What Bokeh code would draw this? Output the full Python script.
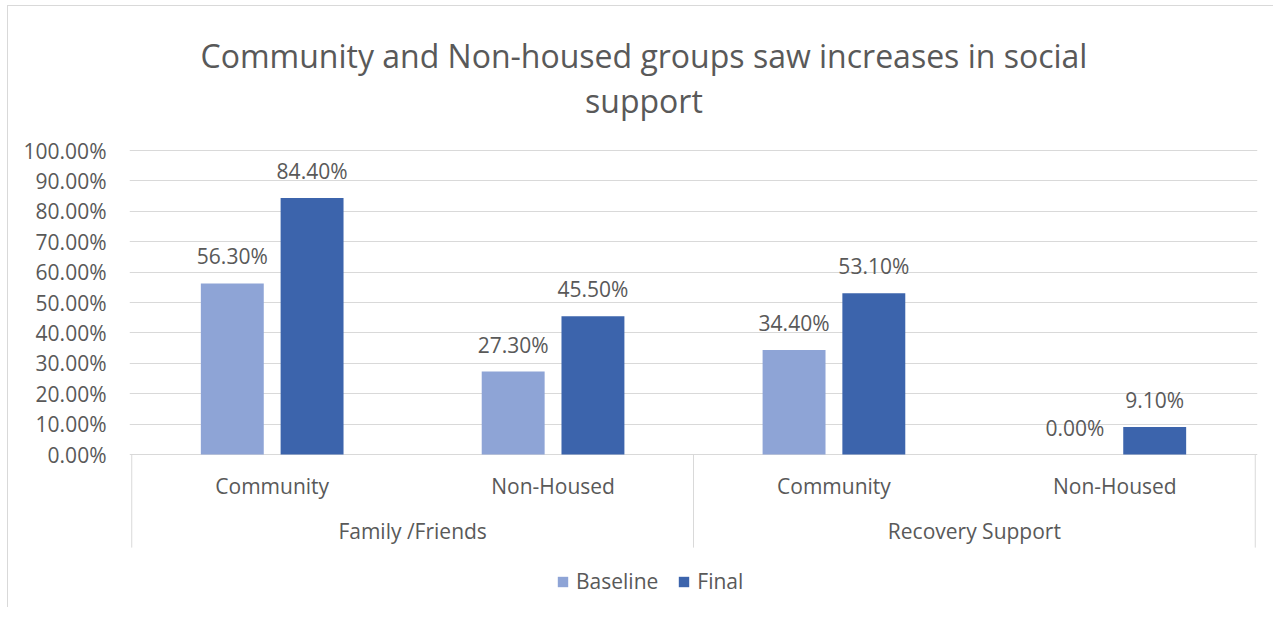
from bokeh.plotting import figure
from bokeh.models import (ColumnDataSource, FactorRange, FixedTicker, PrintfTickFormatter,
                          Legend, LegendItem, Title, Range1d)
from bokeh.transform import dodge
from bokeh.core.properties import value
from bokeh.embed import file_html
from bokeh.resources import INLINE

# ---------------- data ----------------
groups = ["Family /Friends", "Recovery Support"]
subgroups = ["Community", "Non-Housed"]
series = ["Baseline", "Final"]
baseline = [56.3, 27.3, 34.4, 0.0]
final = [84.4, 45.5, 53.1, 9.1]
y_ticks = [0, 10, 20, 30, 40, 50, 60, 70, 80, 90, 100]
title_lines = ["Community and Non-housed groups saw increases in social", "support"]

# ---------------- style ----------------
FONT = "Open Sans"
TXT = "#595959"
GRID = "#D9D9D9"
C_BASE = "#8EA4D6"
C_FINAL = "#3C64AC"
BAR_W = 0.224
DODGE = 0.142
SUB_Y = -10.2
GROUP_Y = -25.3
DIV_Y = -30.6

factors = [(g, s) for g in groups for s in subgroups]
src = ColumnDataSource(dict(
    x=factors,
    baseline=baseline,
    final=final,
    baseline_label=[f"{v:.2f}%" for v in baseline],
    final_label=[f"{v:.2f}%" for v in final],
))

p = figure(
    x_range=FactorRange(*factors, group_padding=0, factor_padding=0, range_padding=0.004),
    y_range=Range1d(-48, 101),
    width=1266, height=602,
    output_backend="svg", toolbar_location=None, x_axis_location=None,
    title=None,
    min_border_left=121, min_border_right=17, min_border_top=141, min_border_bottom=8,
)
p.outline_line_color = None
p.styles = {"border-top": "1px solid #D9D9D9", "border-left": "1px solid #D9D9D9",
            "margin-top": "5px", "margin-left": "7px"}

# two-line title, centred on the whole chart
title = Title(text="\n".join(title_lines), align="left", offset=71, text_align="center",
              text_font=FONT, text_font_size="32px", text_font_style="normal",
              text_color=TXT, text_line_height=1.04, standoff=51)
p.add_layout(title, "above")

# y axis / grid
p.yaxis.ticker = FixedTicker(ticks=y_ticks)
p.yaxis.formatter = PrintfTickFormatter(format="%.2f%%")
p.yaxis.axis_line_color = None
p.yaxis.major_tick_line_color = None
p.yaxis.minor_tick_line_color = None
p.yaxis.major_tick_out = 0
p.yaxis.major_tick_in = 0
p.yaxis.major_label_standoff = 23
p.yaxis.major_label_text_font = FONT
p.yaxis.major_label_text_font_size = "21px"
p.yaxis.major_label_text_color = TXT
p.ygrid.ticker = FixedTicker(ticks=y_ticks)
p.ygrid.grid_line_color = GRID
p.xgrid.visible = False

# bars
r1 = p.vbar(x=dodge("x", -DODGE, range=p.x_range), top="baseline", width=BAR_W,
            source=src, fill_color=C_BASE, line_color=None)
r2 = p.vbar(x=dodge("x", DODGE, range=p.x_range), top="final", width=BAR_W,
            source=src, fill_color=C_FINAL, line_color=None)

# data labels
for off, col in [(-DODGE, "baseline"), (DODGE, "final")]:
    p.text(x=dodge("x", off, range=p.x_range), y=col, text=col + "_label", source=src,
           text_align="center", text_baseline="alphabetic", y_offset=-27,
           text_font=value(FONT), text_font_size="21px", text_color=TXT)

# category axis drawn inside the frame
p.text(x=factors, y=SUB_Y, text=[s for _, s in factors], text_align="center",
       text_baseline="middle", text_font=value(FONT), text_font_size="21px", text_color=TXT)
p.text(x=groups, y=GROUP_Y, text=groups, text_align="center",
       text_baseline="middle", text_font=value(FONT), text_font_size="21px", text_color=TXT)
edges = [(g, subgroups[0], -0.5) for g in groups] + [(groups[-1], subgroups[-1], 0.5)]
p.segment(x0=edges, y0=0, x1=edges, y1=DIV_Y, line_color=GRID, line_width=1)

# legend
legend = Legend(items=[LegendItem(label=series[0], renderers=[r1]),
                       LegendItem(label=series[1], renderers=[r2])],
                orientation="horizontal", location=(427, 5),
                glyph_width=13, glyph_height=13, label_standoff=7, spacing=19,
                padding=2, margin=0, border_line_color=None, background_fill_alpha=0,
                label_text_font=FONT, label_text_font_size="21px", label_text_color=TXT)
p.add_layout(legend)

open("out.html", "w").write(file_html(p, INLINE))
